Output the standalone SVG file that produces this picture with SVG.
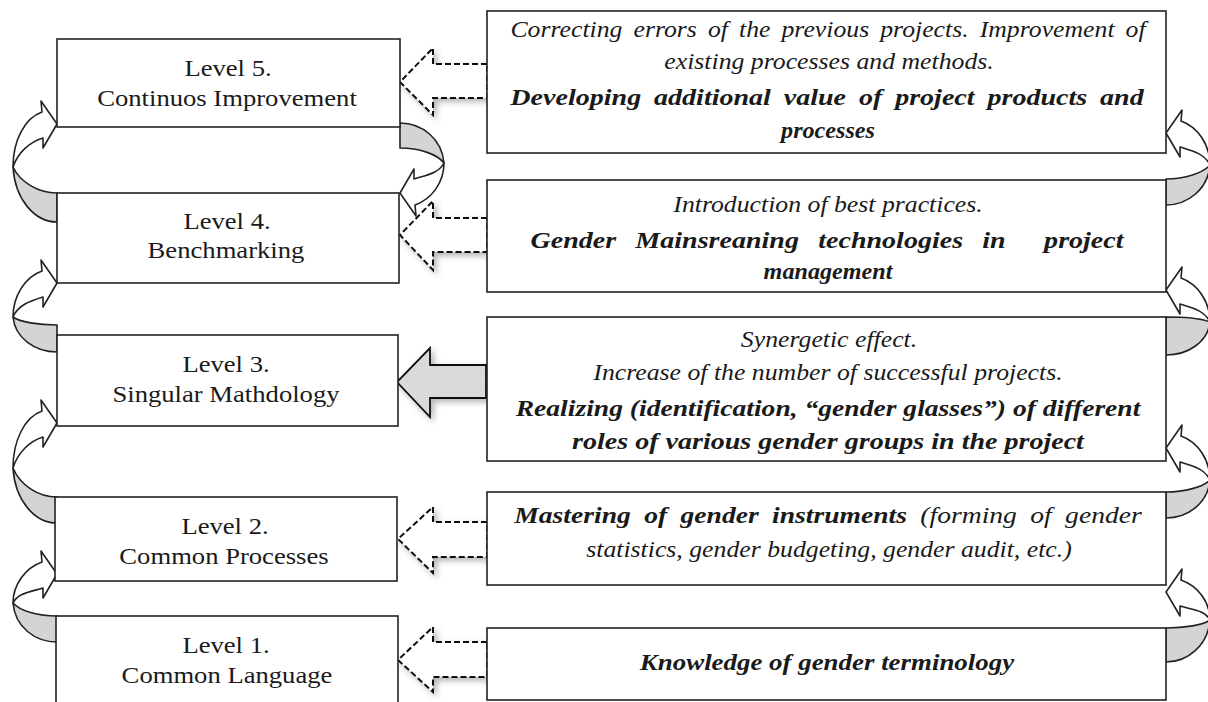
<svg xmlns="http://www.w3.org/2000/svg" width="1208" height="702" viewBox="0 0 1208 702">
<defs>
<filter id="sh" x="-20%" y="-20%" width="150%" height="150%">
<feDropShadow dx="3" dy="3" stdDeviation="3" flood-color="#000" flood-opacity="0.3"/>
</filter>
</defs>
<style>
.box{fill:#fff;stroke:#222;stroke-width:1.6}
.lt{font-family:'Liberation Serif',serif;font-size:24px;fill:#1a1a1a;text-anchor:middle}
.rt{font-family:'Liberation Serif',serif;font-size:23px;font-style:italic;fill:#1a1a1a;text-anchor:middle}
.b{font-weight:bold}
.dash{fill:#fff;stroke:#111;stroke-width:2;stroke-dasharray:6 3;filter:url(#sh)}
.big{fill:#d9d9d9;stroke:#111;stroke-width:1.8;filter:url(#sh)}
.cw{fill:#fff;stroke:#222;stroke-width:1.6;stroke-linejoin:round}
.cg{fill:#d4d4d4;stroke:#222;stroke-width:1.6;stroke-linejoin:round}
</style>
<rect width="1208" height="702" fill="#fff"/>

<g id="connectors">
<polygon class="dash" points="487,64 433,64 433,48 400,82 433,115 433,98 487,98"/>
<polygon class="dash" points="487,218 433,218 433,201 400,235 433,270 433,252 487,252"/>
<polygon class="big" points="486,365 430,365 430,348 397,382 430,417 430,398 486,398"/>
<polygon class="dash" points="487,522 433,522 433,507 398,539 433,573 433,557 487,557"/>
<polygon class="dash" points="487,642 433,642 433,627 398,660 433,692 433,677 487,677"/>

<path class="cg" d="M13,167 C15,200 35,222 57,222 L57,193 C38,193 20,182 13,167 Z"/>
<path class="cw" d="M13,167 C13,140 25,118 42,112 L41,101 L57,124 L43,148 L43,138 C30,142 18,152 13,167 Z"/>

<path class="cg" d="M13,317 C15,338 35,352 57,352 L57,325 C38,325 20,322 13,317 Z"/>
<path class="cw" d="M13,317 C13,296 25,277 42,271 L41,260 L57,283 L43,307 L43,297 C30,301 18,305 13,317 Z"/>

<path class="cg" d="M13,468 C15,501 35,523 57,523 L57,497 C38,497 20,485 13,468 Z"/>
<path class="cw" d="M13,468 C13,440 25,417 42,411 L41,400 L57,423 L43,447 L43,437 C30,441 18,452 13,468 Z"/>

<path class="cg" d="M13,603 C15,627 35,642 57,642 L57,616 C38,616 20,611 13,603 Z"/>
<path class="cw" d="M13,603 C13,585 25,568 42,562 L41,551 L57,574 L43,598 L43,588 C30,592 18,593 13,603 Z"/>

<path class="cg" d="M444,163 C442,139 422,123 400,123 L400,148 C419,148 437,154 444,163 Z"/>
<path class="cw" d="M444,163 C444,182 432,199 415,205 L416,216 L400,193 L414,169 L414,179 C427,175 439,173 444,163 Z"/>

<path class="cg" d="M1210,165 C1208,189 1188,205 1166,205 L1166,179 C1185,179 1203,173 1210,165 Z"/>
<path class="cw" d="M1210,165 C1210,145 1198,127 1181,121 L1182,110 L1166,133 L1180,157 L1180,147 C1193,151 1205,154 1210,165 Z"/>

<path class="cg" d="M1210,322 C1208,342 1188,355 1166,355 L1166,317 C1185,317 1203,319 1210,322 Z"/>
<path class="cw" d="M1210,322 C1210,302 1198,284 1181,278 L1182,267 L1166,290 L1180,314 L1180,304 C1193,308 1205,311 1210,322 Z"/>

<path class="cg" d="M1210,480 C1208,503 1188,518 1166,518 L1166,492 C1185,492 1203,487 1210,480 Z"/>
<path class="cw" d="M1210,480 C1210,460 1198,442 1181,436 L1182,425 L1166,448 L1180,472 L1180,462 C1193,466 1205,469 1210,480 Z"/>

<path class="cg" d="M1210,620 C1208,645 1188,662 1166,662 L1166,628 C1185,628 1203,625 1210,620 Z"/>
<path class="cw" d="M1210,620 C1210,602 1198,586 1181,580 L1182,569 L1166,592 L1180,616 L1180,606 C1193,610 1205,610 1210,620 Z"/>
</g>

<g id="level5">
<rect class="box" x="57" y="39" width="343" height="88"/>
<text class="lt" transform="translate(228 76) scale(1.11 1)">Level 5.</text>
<text class="lt" transform="translate(227 106) scale(1.11 1)">Continuos Improvement</text>
</g>
<g id="level4">
<rect class="box" x="57" y="193" width="342" height="90"/>
<text class="lt" transform="translate(227 229) scale(1.11 1)">Level 4.</text>
<text class="lt" transform="translate(226 258) scale(1.11 1)">Benchmarking</text>
</g>
<g id="level3">
<rect class="box" x="57" y="335" width="341" height="91"/>
<text class="lt" transform="translate(226 372) scale(1.11 1)">Level 3.</text>
<text class="lt" transform="translate(226 402) scale(1.11 1)">Singular Mathdology</text>
</g>
<g id="level2">
<rect class="box" x="55" y="497" width="342" height="84"/>
<text class="lt" transform="translate(225 534) scale(1.11 1)">Level 2.</text>
<text class="lt" transform="translate(224 564) scale(1.11 1)">Common Processes</text>
</g>
<g id="level1">
<rect class="box" x="56" y="616" width="342" height="100"/>
<text class="lt" transform="translate(226 653) scale(1.11 1)">Level 1.</text>
<text class="lt" transform="translate(227 683) scale(1.11 1)">Common Language</text>
</g>

<g id="desc5">
<rect class="box" x="487" y="11" width="679" height="142"/>
<text class="rt" transform="translate(828 37) scale(1.12 1)" word-spacing="4.1">Correcting errors of the previous projects. Improvement of</text>
<text class="rt" transform="translate(829 69) scale(1.12 1)">existing processes and methods.</text>
<text class="rt b" transform="translate(827 105) scale(1.22 1)" word-spacing="4.8">Developing additional value of project products and</text>
<text class="rt b" transform="translate(828 138) scale(1.05 1)">processes</text>
</g>
<g id="desc4">
<rect class="box" x="487" y="180" width="679" height="112"/>
<text class="rt" transform="translate(828 212) scale(1.12 1)">Introduction of best practices.</text>
<text class="rt b" transform="translate(827 248) scale(1.22 1)" word-spacing="10" xml:space="preserve">Gender Mainsreaning technologies in  project</text>
<text class="rt b" transform="translate(828 279) scale(1.05 1)">management</text>
</g>
<g id="desc3">
<rect class="box" x="487" y="317" width="679" height="144"/>
<text class="rt" transform="translate(829 347) scale(1.12 1)">Synergetic effect.</text>
<text class="rt" transform="translate(828 380) scale(1.12 1)">Increase of the number of successful projects.</text>
<text class="rt b" transform="translate(828 416) scale(1.2 1)">Realizing (identification, “gender glasses”) of different</text>
<text class="rt b" transform="translate(828 449) scale(1.22 1)">roles of various gender groups in the project</text>
</g>
<g id="desc2">
<rect class="box" x="487" y="492" width="679" height="93"/>
<text class="rt" transform="translate(828 523) scale(1.2 1)" word-spacing="5.4"><tspan class="b">Mastering of gender instruments</tspan> (forming of gender</text>
<text class="rt" transform="translate(829 557) scale(1.12 1)">statistics, gender budgeting, gender audit, etc.)</text>
</g>
<g id="desc1">
<rect class="box" x="487" y="628" width="679" height="72"/>
<text class="rt b" transform="translate(827 670) scale(1.17 1)">Knowledge of gender terminology</text>
</g>
</svg>
